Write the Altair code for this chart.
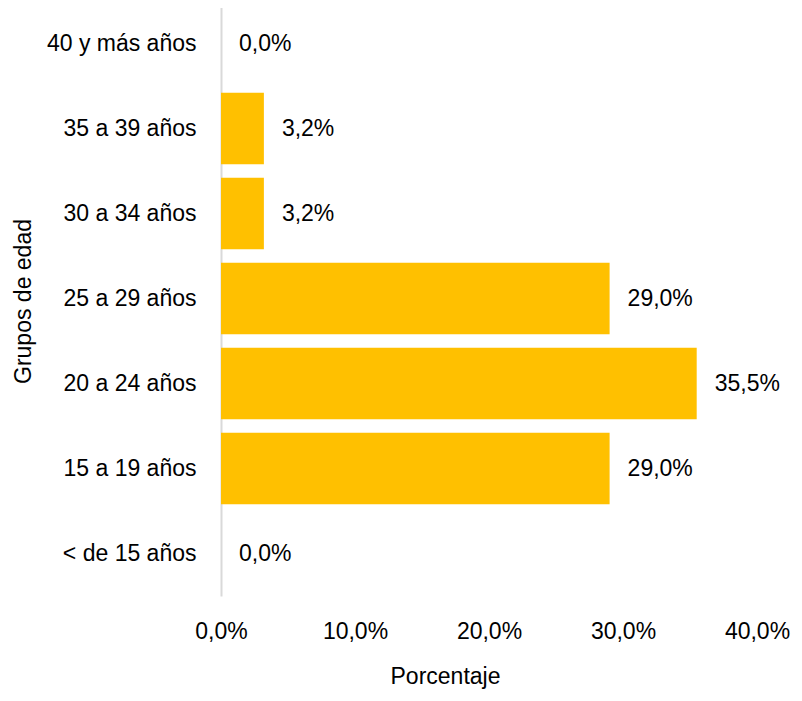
import altair as alt
import pandas as pd

# Data
grupos = ["40 y más años", "35 a 39 años", "30 a 34 años", "25 a 29 años",
          "20 a 24 años", "15 a 19 años", "< de 15 años"]
porcentajes = [0.0, 3.2, 3.2, 29.0, 35.5, 29.0, 0.0]
ticks_x = [0, 10, 20, 30, 40]

etiquetas = [f"{v:.1f}".replace(".", ",") + "%" for v in porcentajes]
df = pd.DataFrame({"grupo": grupos, "pct": porcentajes, "etiqueta": etiquetas})

FONT = "Liberation Sans"
FS = 23
BLACK = "#000000"

x_enc = alt.X(
    "pct:Q",
    scale=alt.Scale(domain=[0, 40], nice=False, zero=True),
    axis=alt.Axis(
        values=ticks_x,
        labelExpr="replace(format(datum.value, '.1f'), '.', ',') + '%'",
        domain=False, ticks=False, tickSize=0, grid=False,
        labelFont=FONT, labelFontSize=FS, labelColor=BLACK,
        labelBaseline="alphabetic", labelPadding=42,
        labelFlush=False, labelOverlap=False,
        title="Porcentaje", titleFont=FONT, titleFontSize=FS,
        titleFontWeight="normal", titleColor=BLACK,
        titleX=224, titleY=87, titleBaseline="alphabetic", titleAlign="center",
    ),
)

y_enc = alt.Y(
    "grupo:N",
    sort=grupos,
    scale=alt.Scale(range=[-7, 588], paddingInner=0.16, paddingOuter=0.08),
    axis=alt.Axis(
        domain=True, domainColor="#D9D9D9", domainWidth=2,
        ticks=False, tickSize=0, grid=False,
        labelFont=FONT, labelFontSize=FS, labelColor=BLACK,
        labelPadding=25, labelAlign="right", labelBaseline="middle",
        title="Grupos de edad", titleFont=FONT, titleFontSize=FS,
        titleFontWeight="normal", titleColor=BLACK,
        titleX=-198, titleY=293, titleAngle=270,
        titleAlign="center", titleBaseline="middle",
    ),
)

bars = alt.Chart(df).mark_bar(color="#FFC000").encode(x=x_enc, y=y_enc)

labels = alt.Chart(df).mark_text(
    align="left", baseline="middle", dx=18,
    font=FONT, fontSize=FS, color=BLACK,
).encode(x=x_enc, y=y_enc, text="etiqueta:N")

chart = (
    alt.layer(bars, labels)
    .properties(
        width=536, height=588,
        autosize=alt.AutoSizeParams(type="none"),
        padding={"left": 213, "top": 0, "right": 37, "bottom": 96},
        background="white",
    )
    .configure_view(stroke=None)
)

chart.save("out.html", embed_options={"renderer": "svg", "actions": False})
